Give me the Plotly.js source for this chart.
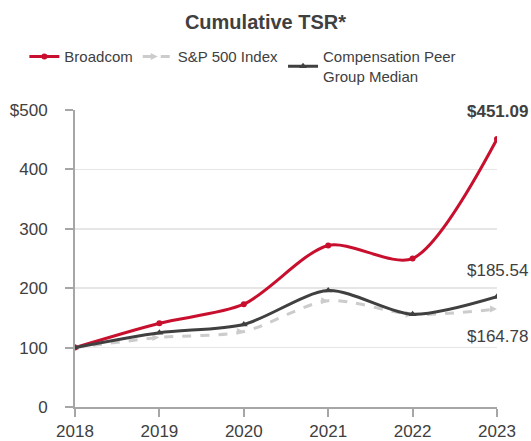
<!DOCTYPE html>
<html>
<head>
<meta charset="utf-8">
<script src="https://cdn.plot.ly/plotly-3.0.1.min.js"></script>
<style>
  html, body { margin: 0; padding: 0; background: #fff; }
  #chart { width: 531px; height: 441px; }
</style>
</head>
<body>
<div id="chart"></div>
<script>
// years and cumulative TSR values
const years = [2018, 2019, 2020, 2021, 2022, 2023];
const broadcom = [100, 141, 173, 272, 250, 451.09];
const sp500 = [100, 117, 127, 179, 156, 164.78];
const peerMedian = [100, 125, 139, 196, 156, 185.54];
const yTickVals = [0, 100, 200, 300, 400, 500];
const yTickText = ["0", "100", "200", "300", "400", "$500"];

const FONT = "Liberation Sans, Arial, sans-serif";
const TEXT = "#404040";

const traces = [
  {
    x: years,
    y: broadcom,
    name: "Broadcom",
    mode: "lines+markers",
    line: { color: "#c8102e", width: 3, shape: "spline", smoothing: 0.8 },
    marker: { symbol: "circle", size: 6, color: "#c8102e" },
  },
  {
    x: years,
    y: sp500,
    name: "S&P 500 Index",
    mode: "lines+markers",
    line: { color: "#cccccc", width: 3, dash: "dash", shape: "spline", smoothing: 0.8 },
    marker: { symbol: "arrow-right", size: 7, color: "#cccccc" },
  },
  {
    x: years,
    y: peerMedian,
    name: "Compensation Peer<br>Group Median",
    mode: "lines+markers",
    line: { color: "#404040", width: 3, shape: "spline", smoothing: 0.8 },
    marker: { symbol: "triangle-up", size: 7, color: "#404040" },
  },
];

const last = years.length - 1;

const layout = {
  width: 531,
  height: 441,
  paper_bgcolor: "#fff",
  plot_bgcolor: "#fff",
  font: { family: FONT, size: 16, color: TEXT },
  margin: { l: 75, r: 34, t: 110, b: 34 },
  showlegend: true,
  title: {
    text: "<b>Cumulative TSR*</b>",
    font: { family: FONT, size: 20, color: TEXT },
    x: 0.5,
    xref: "container",
    y: 0.95,
    yref: "container",
    yanchor: "middle",
  },
  // above the plot area and left of it, so the wrap width is the full row
  legend: {
    orientation: "h",
    xref: "paper",
    yref: "paper",
    x: -0.12,
    y: 1.235,
    xanchor: "left",
    yanchor: "top",
    font: { family: FONT, size: 15, color: TEXT },
    itemwidth: 30,
    tracegroupgap: 0,
  },
  xaxis: {
    range: [2018, 2023],
    tickvals: years,
    ticks: "outside",
    ticklen: 8,
    tickcolor: "#a6a6a6",
    tickwidth: 2,
    showline: true,
    linecolor: "#a6a6a6",
    linewidth: 2,
    showgrid: false,
    zeroline: false,
    tickfont: { family: FONT, size: 17, color: TEXT },
  },
  yaxis: {
    range: [0, 500],
    tickvals: yTickVals,
    ticktext: yTickText,
    ticks: "outside",
    ticklen: 8,
    tickcolor: "#a6a6a6",
    tickwidth: 2,
    ticklabelstandoff: 14,
    showline: true,
    linecolor: "#a6a6a6",
    linewidth: 2,
    gridcolor: "#e6e6e6",
    gridwidth: 1.5,
    zeroline: false,
    tickfont: { family: FONT, size: 17, color: TEXT },
  },
  annotations: [
    {
      x: years[last],
      y: broadcom[last],
      text: "<b>$" + broadcom[last].toFixed(2) + "</b>",
      showarrow: false,
      yshift: 28,
      font: { family: FONT, size: 17, color: TEXT },
    },
    {
      x: years[last],
      y: peerMedian[last],
      text: "$" + peerMedian[last].toFixed(2),
      showarrow: false,
      yshift: 26,
      font: { family: FONT, size: 17, color: TEXT },
    },
    {
      x: years[last],
      y: sp500[last],
      text: "$" + sp500[last].toFixed(2),
      showarrow: false,
      yshift: -27,
      font: { family: FONT, size: 17, color: TEXT },
    },
  ],
};

Plotly.newPlot("chart", traces, layout, { displayModeBar: false, staticPlot: true });
</script>
</body>
</html>
